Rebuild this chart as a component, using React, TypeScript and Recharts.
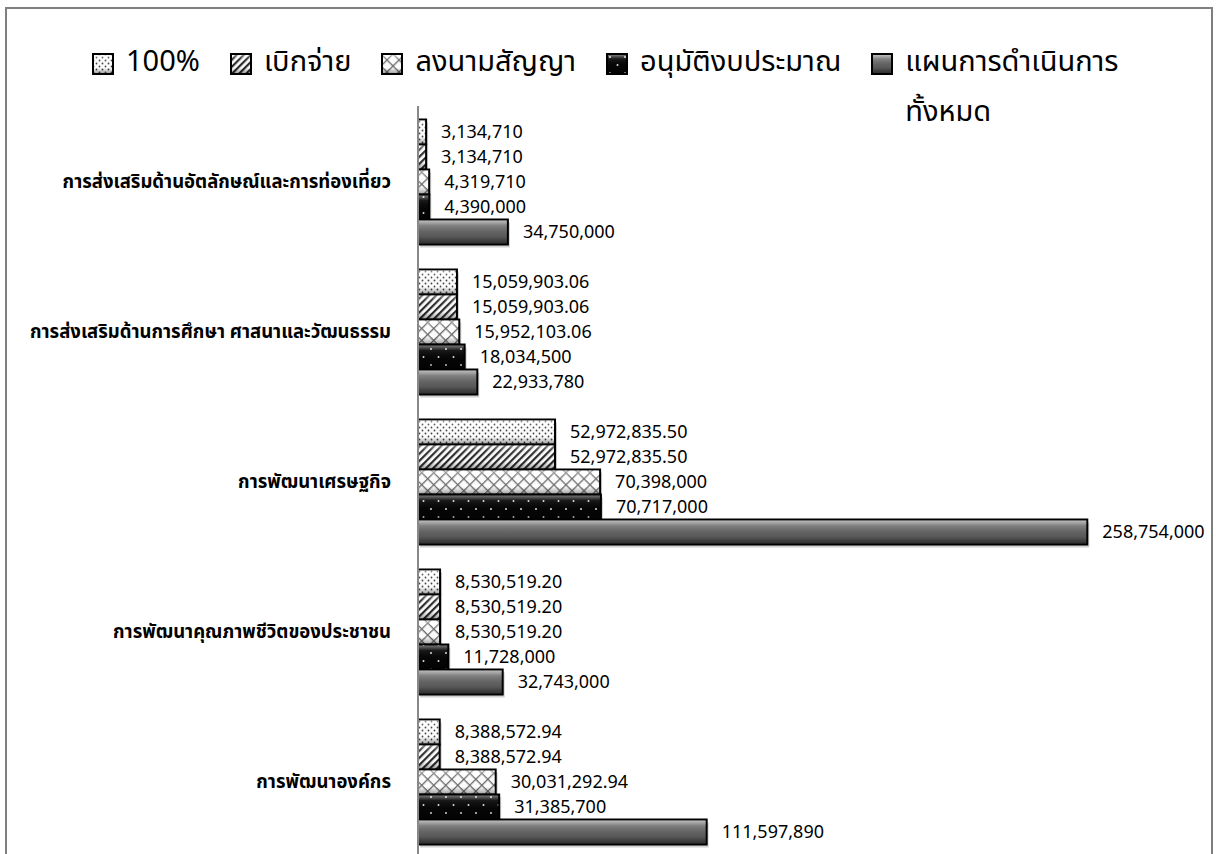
import React from "react"
import { Bar, BarChart, LabelList, XAxis, YAxis } from "recharts"

const categories = [
  "การส่งเสริมด้านอัตลักษณ์และการท่องเที่ยว",
  "การส่งเสริมด้านการศึกษา ศาสนาและวัฒนธรรม",
  "การพัฒนาเศรษฐกิจ",
  "การพัฒนาคุณภาพชีวิตของประชาชน",
  "การพัฒนาองค์กร",
]

const fullPercent = [3134710, 15059903.06, 52972835.5, 8530519.2, 8388572.94]
const disbursed = [3134710, 15059903.06, 52972835.5, 8530519.2, 8388572.94]
const contracted = [4319710, 15952103.06, 70398000, 8530519.2, 30031292.94]
const approved = [4390000, 18034500, 70717000, 11728000, 31385700]
const planned = [34750000, 22933780, 258754000, 32743000, 111597890]

const seriesNames = [
  "100%",
  "เบิกจ่าย",
  "ลงนามสัญญา",
  "อนุมัติงบประมาณ",
  "แผนการดำเนินการทั้งหมด",
]
const legendLabels = [
  "100%",
  "เบิกจ่าย",
  "ลงนามสัญญา",
  "อนุมัติงบประมาณ",
  "แผนการดำเนินการ\nทั้งหมด",
]

const data = categories.map((name, i) => ({
  name,
  s0: fullPercent[i],
  s1: disbursed[i],
  s2: contracted[i],
  s3: approved[i],
  s4: planned[i],
}))

const FILLS = [
  "url(#p-dots)",
  "url(#p-diag)",
  "url(#p-cross)",
  "url(#p-blackdots)",
  "url(#p-gray)",
]

const FONT = "Tahoma, 'Leelawadee UI', 'Noto Sans Thai', 'Noto Sans', sans-serif"

const formatValue = (v: unknown) => {
  const n = Number(v)
  return Number.isInteger(n)
    ? n.toLocaleString("en-US")
    : n.toLocaleString("en-US", { minimumFractionDigits: 2, maximumFractionDigits: 2 })
}

function Patterns() {
  return (
    <defs>
      <pattern id="p-dots" patternUnits="userSpaceOnUse" width="6" height="6">
        <rect width="6" height="6" fill="#fff" />
        <circle cx="1.5" cy="1.5" r="0.9" fill="#444" />
        <circle cx="4.5" cy="4.5" r="0.9" fill="#444" />
      </pattern>
      <pattern id="p-diag" patternUnits="userSpaceOnUse" width="5" height="5" patternTransform="rotate(45)">
        <rect width="5" height="5" fill="#fff" />
        <rect width="2.2" height="5" fill="#2a2a2a" />
      </pattern>
      <pattern id="p-cross" patternUnits="userSpaceOnUse" width="8.5" height="8.5" patternTransform="rotate(45)">
        <rect width="8.5" height="8.5" fill="#fff" />
        <rect width="8.5" height="1.3" fill="#6a6a6a" />
        <rect width="1.3" height="8.5" fill="#6a6a6a" />
      </pattern>
      <pattern id="p-blackdots" patternUnits="userSpaceOnUse" width="15" height="16">
        <rect width="15" height="16" fill="#050505" />
        <circle cx="4" cy="4" r="1" fill="#ddd" />
        <circle cx="11.5" cy="12" r="1" fill="#ddd" />
      </pattern>
      <linearGradient id="p-gray" x1="0" y1="0" x2="0" y2="1">
        <stop offset="0%" stopColor="#8a8a8a" />
        <stop offset="50%" stopColor="#636363" />
        <stop offset="100%" stopColor="#474747" />
      </linearGradient>
      <linearGradient id="bevel" x1="0" y1="0" x2="0" y2="1">
        <stop offset="0%" stopColor="#fff" stopOpacity="0.45" />
        <stop offset="22%" stopColor="#fff" stopOpacity="0.08" />
        <stop offset="70%" stopColor="#000" stopOpacity="0" />
        <stop offset="100%" stopColor="#000" stopOpacity="0.35" />
      </linearGradient>
    </defs>
  )
}

function BevelBar(props: any) {
  const { x, y, width, height, fill } = props
  if (!width || width <= 0) return null
  return (
    <g>
      <rect x={x + 2} y={y + 3} width={width} height={height} fill="#000" opacity={0.18} />
      <rect x={x} y={y} width={width} height={height} fill={fill} stroke="#000" strokeWidth={2} />
      <rect x={x + 1} y={y + 1} width={Math.max(width - 2, 0)} height={height - 2} fill="url(#bevel)" />
    </g>
  )
}

function Swatch({ fill }: { fill: string }) {
  return (
    <svg width={22} height={22} style={{ flex: "none", display: "block" }}>
      <rect x={1} y={1} width={20} height={20} fill={fill} stroke="#000" strokeWidth={2} />
      <rect x={2} y={2} width={18} height={18} fill="url(#bevel)" />
    </svg>
  )
}

export default function App() {
  return (
    <div
      style={{
        position: "absolute",
        left: 5,
        top: 7,
        width: 1204,
        height: 900,
        border: "2px solid #7f7f7f",
        fontFamily: FONT,
        background: "#fff",
      }}
    >
      <div
        style={{
          position: "absolute",
          left: 85,
          top: 28,
          display: "flex",
          alignItems: "flex-start",
          gap: 30,
          fontSize: 29,
          color: "#000",
          lineHeight: "50px",
        }}
      >
        {legendLabels.map((label, i) => (
          <div key={seriesNames[i]} style={{ display: "flex", alignItems: "flex-start", gap: 12 }}>
            <div style={{ paddingTop: 16 }}>
              <Swatch fill={FILLS[i]} />
            </div>
            <span style={{ whiteSpace: "pre-line" }}>{label}</span>
          </div>
        ))}
      </div>
      <BarChart
        width={1204}
        height={880}
        data={data}
        layout="vertical"
        barCategoryGap="9%"
        barGap={0}
        margin={{ top: 97, right: 17, bottom: 33, left: 0 }}
        style={{ position: "absolute", left: 0, top: 0 }}
      >
        <Patterns />
        <XAxis type="number" domain={[0, 300000000]} hide />
        <YAxis
          type="category"
          dataKey="name"
          width={411}
          tickLine={false}
          tickSize={0}
          tickMargin={27}
          axisLine={{ stroke: "#888", strokeWidth: 2 }}
          tick={{ fontSize: 18.5, fontWeight: 700, fill: "#000", fontFamily: FONT }}
        />
        {seriesNames.map((name, i) => (
          <Bar
            key={name}
            dataKey={`s${i}`}
            name={name}
            fill={FILLS[i]}
            shape={BevelBar}
            isAnimationActive={false}
          >
            <LabelList
              dataKey={`s${i}`}
              position="right"
              offset={15}
              formatter={formatValue}
              style={{ fontSize: 18, fill: "#000", fontFamily: FONT }}
            />
          </Bar>
        ))}
      </BarChart>
    </div>
  )
}
